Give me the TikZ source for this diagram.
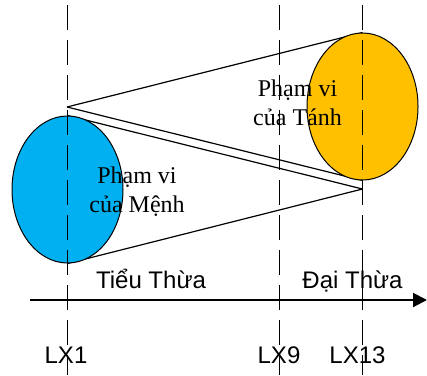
\documentclass[tikz,border=0pt]{standalone}
\usepackage{fontspec}
\setmainfont{Liberation Serif}
\newfontfamily\labelsans{Liberation Sans}
\usetikzlibrary{shapes.geometric,arrows.meta,backgrounds}
\definecolor{menhblue}{HTML}{00B0F0}
\definecolor{tanhorange}{HTML}{FFC000}
\tikzset{
  scopeell/.style={ellipse, draw=black, line width=1pt, minimum width=111pt, minimum height=147pt, inner sep=0pt},
  coneline/.style={line width=1.2pt},
  guide/.style={line width=1pt, dash pattern=on 25pt off 10pt},
  serif/.style={font=\fontsize{24}{29}\selectfont, align=center, inner sep=0pt},
  sanslabel/.style={font=\labelsans\fontsize{24}{29}\selectfont, inner sep=0pt, anchor=base},
  axisline/.style={line width=2pt, -{Triangle[length=14pt,width=14pt]}}
}
\begin{document}
\begin{tikzpicture}[x=1pt,y=-1pt]
\useasboundingbox (0,0) rectangle (427,375);
% ellipses (nodes)
\node[scopeell, fill=menhblue] (menh) at (67.5,189.5) {};
\node[scopeell, fill=tanhorange] (tanh) at (362.5,106.5) {};
% apex points
\coordinate (apexL) at (67,107);
\coordinate (apexR) at (362.5,189);
% cone lines, behind the ellipses
\begin{scope}[on background layer]
\draw[coneline] (apexL) -- (tanh.north);
\draw[coneline] (apexL) -- (tanh.south);
\draw[coneline] (apexR) -- (menh.north);
\draw[coneline] (apexR) -- (menh.south);
\end{scope}
% texts
\node[serif, anchor=base] (tmenh) at (137,212) {Phạm vi\\của Mệnh};
\node[serif, anchor=base] (ttanh) at (297.5,125) {Phạm vi\\của Tánh};
% axis
\coordinate (axS) at (30,300);
\coordinate (axE) at (427,300);
\draw[axisline] (axS) -- (axE);
\node[sanslabel] (tieu) at (151,288) {Tiểu Thừa};
\node[sanslabel] (dai) at (352.5,288) {Đại Thừa};
% guide lines
\coordinate (g1t) at (67,5);   \coordinate (g1b) at (67,375);
\coordinate (g9t) at (279,5);  \coordinate (g9b) at (279,375);
\coordinate (g13t) at (362.5,5); \coordinate (g13b) at (362.5,375);
\draw[guide] (g1t) -- (g1b);
\draw[guide] (g9t) -- (g9b);
\draw[guide] (g13t) -- (g13b);
\node[sanslabel] (lx1) at (66,363) {LX1};
\node[sanslabel] (lx9) at (279,363) {LX9};
\node[sanslabel] (lx13) at (357.5,363) {LX13};
\end{tikzpicture}
\end{document}
